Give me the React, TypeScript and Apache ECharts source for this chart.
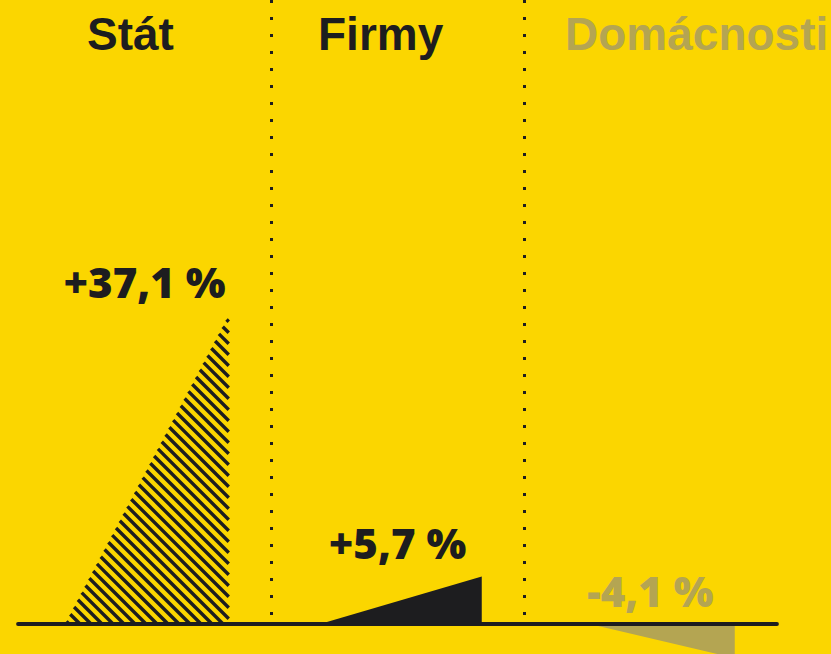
import React, { useEffect, useRef } from "react";
import * as echarts from "echarts";

const categories = ["Stát", "Firmy", "Domácnosti"];
const values = [37.1, 5.7, -4.1];

const BG = "#FBD600";
const INK = "#1d1d1f";
const GREY = "#b4a552";
const FILL = ["hatch", INK, GREY];
const TEXT_COLORS = [INK, INK, GREY];
const TRI_LEFT = [-0.314, -0.306, -0.24];
const TRI_RIGHT = 0.333;
const HEADER_X = [87, 318, 565];
const HATCH_STEP = 11;

function fmt(v: number) {
  return (v > 0 ? "+" : "-") + Math.abs(v).toFixed(1).replace(".", ",") + " %";
}

export default function App() {
  const ref = useRef<HTMLDivElement>(null);
  useEffect(() => {
    if (!ref.current) return;
    const chart = echarts.init(ref.current, undefined, { renderer: "svg" });
    const renderItem = (params: any, api: any) => {
      const idx = api.value(0);
      const v = api.value(1);
      const base = api.coord([idx, 0]);
      const bw = api.size([1, 0])[0];
      const x0 = base[0] + TRI_LEFT[idx] * bw;
      const x1 = base[0] + TRI_RIGHT * bw;
      const yb = base[1];
      const yt = api.coord([idx, v])[1];
      const children: any[] = [];
      const fill = FILL[idx];
      if (fill === "hatch") {
        const w = x1 - x0;
        const h = yb - yt;
        const cStart = x0 - yb;
        const cEnd = x1 - yt;
        for (let c = cStart + 4; c < cEnd; c += HATCH_STEP) {
          const t = (c - cStart) / (w + h);
          const px = x0 + t * w;
          const py = yb - t * h;
          let ex: number, ey: number;
          if (c >= x1 - yb) {
            ex = x1;
            ey = x1 - c;
          } else {
            ex = yb + c;
            ey = yb;
          }
          children.push({
            type: "line",
            shape: { x1: px, y1: py, x2: ex, y2: ey },
            style: { stroke: INK, lineWidth: 3.4 },
          });
        }
      } else {
        children.push({
          type: "polygon",
          shape: { points: [[x0, yb], [x1, yb], [x1, yt]] },
          style: { fill },
        });
      }
      const topY = Math.min(yt, yb);
      children.push({
        type: "text",
        style: {
          x: base[0],
          y: topY - 13,
          text: fmt(v),
          fill: TEXT_COLORS[idx],
          font: '800 42px "Open Sans"',
          textAlign: "center",
          textVerticalAlign: "bottom",
        },
      });
      return { type: "group", children };
    };
    chart.setOption({
      animation: false,
      backgroundColor: BG,
      grid: { left: 18, right: 54, top: 0, bottom: 30 },
      xAxis: {
        type: "category",
        data: categories,
        boundaryGap: true,
        z: 5,
        axisLine: { show: true, onZero: true, lineStyle: { color: INK, width: 3.8 } },
        axisTick: { show: false },
        axisLabel: { show: false },
        splitLine: {
          show: true,
          showMinLine: false,
          showMaxLine: false,
          lineStyle: { type: [3, 14], width: 3, color: INK },
        },
      },
      yAxis: { type: "value", min: 0, max: 75, show: false, splitLine: { show: false } },
      series: [
        {
          type: "custom",
          clip: false,
          z: 2,
          renderItem,
          encode: { x: 0, y: 1 },
          data: values.map((v, i) => [i, v]),
        },
      ],
      graphic: categories.map((c, i) => ({
        type: "text",
        x: HEADER_X[i],
        y: 34,
        style: {
          text: c,
          fill: TEXT_COLORS[i],
          font: 'bold 46px "Liberation Sans"',
          textVerticalAlign: "middle",
        },
      })),
    });
    return () => chart.dispose();
  }, []);
  return (
    <div
      ref={ref}
      style={{ position: "absolute", left: 0, top: 0, width: 831, height: 654, background: BG }}
    />
  );
}
